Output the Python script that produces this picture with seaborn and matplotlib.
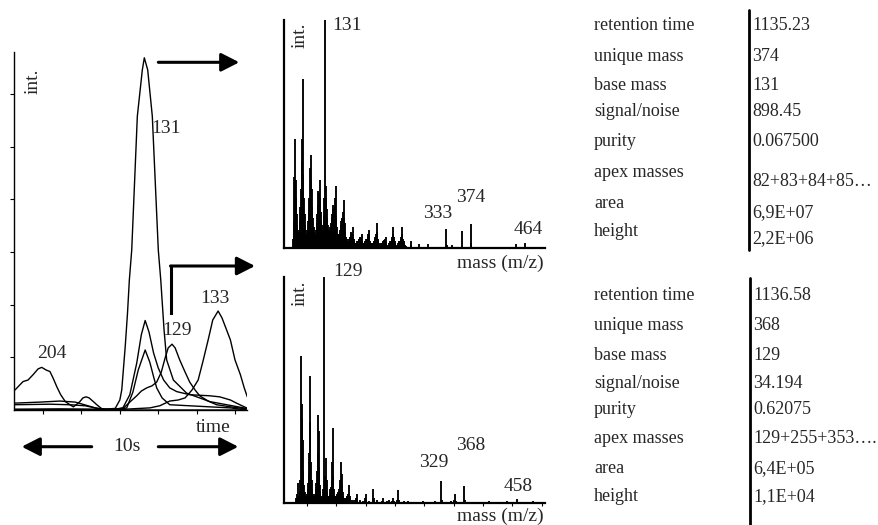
import matplotlib
matplotlib.use("Agg")
import matplotlib.pyplot as plt
import pandas as pd
import seaborn as sns
from matplotlib.lines import Line2D

# ---- chromatogram traces (scan number, intensity) ----
t_131 = [-3.8, 2.2, 7.4, 9.4, 10.0, 10.25, 10.7, 11.0, 11.24, 11.55, 12.28, 12.93, 13.19, 13.63, 14.23, 15.01, 15.33, 15.76, 16.1, 16.97, 18.7, 21.7, 26.5]
i_131 = [0.01, 0.02, 0.01, 0.03, 0.19, 0.38, 1.2, 1.84, 2.47, 3.04, 5.58, 6.46, 6.69, 6.46, 5.58, 3.04, 2.47, 1.52, 0.95, 0.57, 0.32, 0.16, 0.03]

t_b = [-3.8, -0.4, 2.2, 4.2, 6.8, 8.7, 10.4, 11.3, 12.2, 12.8, 13.3, 13.8, 14.4, 15.0, 15.7, 16.5, 17.4, 19.1, 21.7, 23.0, 24.4, 25.2, 26.5]
i_b = [0.13, 0.15, 0.17, 0.15, 0.04, 0.0, 0.04, 0.29, 0.89, 1.43, 1.70, 1.48, 1.08, 0.80, 0.57, 0.42, 0.35, 0.29, 0.27, 0.25, 0.19, 0.13, 0.04]

t_c = [-3.8, 0.9, 3.5, 5.5, 7.4, 9.4, 10.9, 11.7, 12.4, 13.3, 13.9, 14.4, 14.8, 15.5, 16.5, 19.1, 21.7, 24.4, 26.5]
i_c = [0.10, 0.11, 0.10, 0.08, 0.02, 0.0, 0.04, 0.34, 0.76, 1.14, 0.91, 0.63, 0.42, 0.23, 0.10, 0.08, 0.06, 0.04, 0.0]

t_129 = [-3.8, 7.4, 9.8, 10.5, 11.3, 12.2, 12.8, 13.5, 14.2, 14.8, 15.4, 15.9, 16.3, 16.8, 17.2, 17.8, 18.5, 19.1, 19.8, 20.4, 21.5, 22.6, 24.4, 26.5]
i_129 = [0.01, 0.01, 0.02, 0.04, 0.15, 0.27, 0.36, 0.42, 0.46, 0.53, 0.72, 0.99, 1.18, 1.25, 1.18, 0.95, 0.72, 0.53, 0.38, 0.27, 0.17, 0.10, 0.06, 0.02]

t_133 = [-3.8, 10.0, 13.9, 15.2, 16.5, 17.6, 18.5, 19.4, 20.2, 20.8, 21.5, 22.1, 22.8, 23.3, 23.8, 24.4, 25.0, 25.7, 26.2, 26.6]
i_133 = [0.01, 0.01, 0.04, 0.08, 0.17, 0.19, 0.23, 0.38, 0.57, 0.91, 1.33, 1.71, 1.88, 1.75, 1.56, 1.33, 0.95, 0.67, 0.42, 0.25]

t_204 = [-3.65, -3.0, -2.6, -1.95, -1.3, -0.65, -0.17, 0.4, 0.9, 1.3, 1.8, 2.3, 2.9, 3.5, 3.95, 4.4, 4.8, 5.2, 5.6, 6.0, 6.55, 7.0, 7.6, 8.3, 13.9, 26.5]
i_204 = [0.38, 0.48, 0.54, 0.57, 0.67, 0.78, 0.81, 0.76, 0.73, 0.61, 0.44, 0.29, 0.16, 0.10, 0.06, 0.11, 0.16, 0.23, 0.25, 0.23, 0.16, 0.10, 0.03, 0.0, 0.0, 0.0]

# ---- mass spectrum 1 (base 131): every mass 78..266, then single peaks ----
top_mz = list(range(78, 267)) + [274, 275, 288, 302, 333, 334, 343, 359, 374, 375, 449, 464]
top_int = [4, 12, 31, 48, 30, 22, 15, 10, 7, 6,                       # 78-87
           8, 12, 18, 26, 48, 38, 74, 32, 22, 15, 10, 8, 6, 6,        # 88-101
           8, 12, 17, 22, 35, 30, 41, 26, 18, 13, 9, 7, 6, 6,         # 102-115
           8, 11, 15, 19, 25, 24, 30, 22, 16, 12, 9, 8, 10, 14, 22,   # 116-130
           100, 27, 22, 17, 13, 10, 8, 6,                             # 131-138
           7, 9, 11, 13, 15, 17, 19, 17, 22, 18, 27, 14, 9, 6, 5,     # 139-153
           5, 6, 8, 10, 12, 13, 13, 16, 13, 21, 11, 7, 5, 4, 3,       # 154-168
           3, 3, 4, 5, 5, 6, 7, 6, 9, 5, 4, 3, 2, 2,                  # 169-182
           2, 2, 3, 3, 4, 4, 5, 5, 5, 6, 3, 2, 2,                     # 183-195
           2, 2, 3, 3, 4, 4, 5, 6, 6, 8, 3, 2, 1.5,                   # 196-208
           1.5, 2, 2, 3, 3, 4, 5, 6, 7, 11, 4, 3, 2, 1.5,             # 209-222
           1.5, 1.5, 2, 2, 2.5, 3, 3, 3.5, 4, 5, 2, 1.5, 1,           # 223-235
           1, 1.5, 2, 2, 3, 3, 4, 5, 6, 9, 5, 3, 2, 1.5, 1,           # 236-250
           1, 1.5, 2, 2, 3, 3, 4, 5, 6, 9, 4, 3, 2, 1.5, 1, 1,        # 251-266
           3, 1.5, 1.6, 1.9, 8.2, 1.5, 1.5, 7.6, 10.7, 2, 1.9, 2.3]

# ---- mass spectrum 2 (base 129): every mass 82..175, then single peaks ----
bot_mz = list(range(82, 176)) + [178, 182, 184, 185, 186, 190, 196, 199, 200, 201, 206, 212, 213, 214,
                                 220, 228, 229, 236, 240, 245, 247, 248, 254, 255, 256,
                                 265, 272, 285, 298, 310, 318, 329, 330, 340, 345, 350, 353, 354,
                                 360, 368, 369, 380, 395, 410, 425, 440, 450, 458, 470, 485, 495]
bot_int = [2, 4, 9, 3, 2, 3, 5, 10, 65, 37,         # 82-91
           44, 28, 14, 8, 5, 3, 2, 3, 4, 6,         # 92-101
           9, 13, 22, 56, 36, 18, 10, 6, 4, 3,      # 102-111
           2, 3, 4, 6, 9, 14, 22, 39, 32, 16,       # 112-121
           8, 5, 3, 2, 2, 3, 6, 100, 12, 7,         # 122-131
           9, 20, 10, 5, 3, 2, 3, 4, 6, 7,          # 132-141
           10, 18, 33, 12, 6, 3, 2, 2, 3, 3,        # 142-151
           4, 5, 5, 6, 7, 10, 18, 8, 13, 5,         # 152-161
           3, 2, 2, 1.5, 2, 2, 3, 3, 4, 4,          # 162-171
           8, 3, 2, 1.5,                            # 172-175
           1.5, 1.2, 2, 4, 1.5, 1.2, 1, 2, 4, 1.5, 1, 2, 6, 2,
           1.5, 1, 2, 0.8, 1.2, 1, 2.2, 1, 1.5, 5.6, 1.5,
           0.8, 1, 0.6, 0.8, 0.5, 0.7, 9.7, 1.5, 0.6, 0.8, 1.2, 4.1, 1,
           0.6, 7.4, 1.2, 0.6, 0.5, 0.7, 0.5, 0.8, 0.6, 1.9, 0.5, 0.7, 0.5]

# ---- peak tables ----
row_labels = ["retention time", "unique mass", "base mass", "signal/noise",
              "purity", "apex masses", "area", "height"]
peak1_vals = ["1135.23", "374", "131", "898.45", "0.067500", "82+83+84+85…", "6,9E+07", "2,2E+06"]
peak2_vals = ["1136.58", "368", "129", "34.194", "0.62075", "129+255+353….", "6,4E+05", "1,1E+04"]

sns.set_style("white")
plt.rcParams["font.family"] = ["Liberation Serif", "DejaVu Serif"]

W, H = 879, 525
fig = plt.figure(figsize=(W / 100, H / 100), dpi=100)


def fx(x):
    return x / W


def fy(y):
    return 1 - y / H


def ax_box(x0, y0, x1, y1):
    return [fx(x0), fy(y1), fx(x1) - fx(x0), (y1 - y0) / H]


def ftext(x, y, s, size=14, **kw):
    fig.text(fx(x), fy(y), s, fontsize=size, ha=kw.pop("ha", "center"),
             va=kw.pop("va", "center"), **kw)


def arrow(x0, y0, x1, y1):
    fig.add_artist(matplotlib.patches.FancyArrowPatch(
        (fx(x0), fy(y0)), (fx(x1), fy(y1)), transform=fig.transFigure,
        arrowstyle="-|>,head_length=0.55,head_width=0.28", mutation_scale=20,
        lw=2.2, color="k", shrinkA=0, shrinkB=0))


# chromatogram
chrom = pd.concat([
    pd.DataFrame({"t": t, "v": v, "trace": n})
    for t, v, n in [(t_131, i_131, "131"), (t_b, i_b, "b"), (t_c, i_c, "c"),
                    (t_129, i_129, "129"), (t_133, i_133, "133"), (t_204, i_204, "204")]
])
ax0 = fig.add_axes(ax_box(14, 52, 247, 410))
sns.lineplot(data=chrom, x="t", y="v", units="trace", estimator=None, sort=False,
             color="k", lw=1.0, ax=ax0)
ax0.set_xlim(-3.78, 26.56)
ax0.set_ylim(0, 6.8)
ax0.set_xticks([0, 5, 10, 15, 20, 25])
ax0.set_yticks([1, 2, 3, 4, 5, 6])
ax0.set_xticklabels([])
ax0.set_yticklabels([])
ax0.set_xlabel("")
ax0.set_ylabel("")
ax0.tick_params(direction="out", length=3, width=0.8, colors="k", bottom=True, left=True)
sns.despine(ax=ax0)
for s in ["left", "bottom"]:
    ax0.spines[s].set_color("k")
    ax0.spines[s].set_linewidth(1.0)


def spectrum(box, mz, inten, xlim, ticks):
    ax = fig.add_axes(ax_box(*box))
    ax.vlines(mz, 0, inten, color="k", lw=1.35)
    ax.set_xlim(*xlim)
    ax.set_ylim(0, 100)
    ax.set_yticks([])
    if ticks:
        ax.set_xticks(ticks)
        ax.set_xticklabels([])
        ax.tick_params(axis="x", direction="out", length=2.5, width=0.8, colors="k", bottom=True)
    else:
        ax.set_xticks([])
    sns.despine(ax=ax)
    for s in ["left", "bottom"]:
        ax.spines[s].set_color("k")
        ax.spines[s].set_linewidth(1.6)
    return ax


spectrum((284, 20, 545, 248), top_mz, top_int, (62.7, 497.7), None)
spectrum((284, 277, 545, 503), bot_mz, bot_int, (60.9, 505.5), list(range(100, 501, 50)))

# chromatogram annotations
ftext(33, 81, "int.", rotation=90)
ftext(212.7, 427, "time")
ftext(126.7, 446.7, "10s")
ftext(51.7, 353.3, "204")
ftext(165.7, 128.3, "131")
ftext(176.7, 330.7, "129")
ftext(215, 298.3, "133")
arrow(91.7, 446.7, 21.7, 446.7)
arrow(158.3, 446.7, 238.3, 446.7)
arrow(158.3, 62.3, 239.3, 62.3)
fig.add_artist(Line2D([fx(171), fx(171)], [fy(313), fy(266)], lw=2.2, color="k",
                      solid_capstyle="projecting"))
arrow(170.5, 266, 255, 266)

# spectrum annotations
ftext(300, 35, "int.", rotation=90)
ftext(346.7, 26, "131")
ftext(437.7, 213.3, "333")
ftext(471, 197.3, "374")
ftext(528.3, 230, "464")
ftext(500, 263.3, "mass (m/z)")
ftext(300, 293, "int.", rotation=90)
ftext(348, 271, "129")
ftext(434, 462.7, "329")
ftext(471, 445, "368")
ftext(517.7, 486.7, "458")
ftext(500, 516, "mass (m/z)")

# tables
lab_y1 = [25, 56.7, 85, 111, 141.7, 172.7, 203.3, 231.7]
val_y1 = [25, 56.7, 85, 111, 141.7, 181.7, 212.3, 238.3]
lab_y2 = [295, 325, 355, 383.3, 410, 438.3, 468.3, 496.7]
for lab, v, ly, vy in zip(row_labels, peak1_vals, lab_y1, val_y1):
    ftext(594, ly, lab, size=13, ha="left")
    ftext(752, vy, v, size=13, ha="left")
for lab, v, ly in zip(row_labels, peak2_vals, lab_y2):
    ftext(594, ly, lab, size=13, ha="left")
    ftext(753, ly, v, size=13, ha="left")
fig.add_artist(Line2D([fx(749), fx(749)], [fy(10), fy(250)], lw=2.0, color="k"))
fig.add_artist(Line2D([fx(750), fx(750)], [fy(278), fy(525)], lw=2.0, color="k"))

fig.savefig("out.png", dpi=100, facecolor="white")
